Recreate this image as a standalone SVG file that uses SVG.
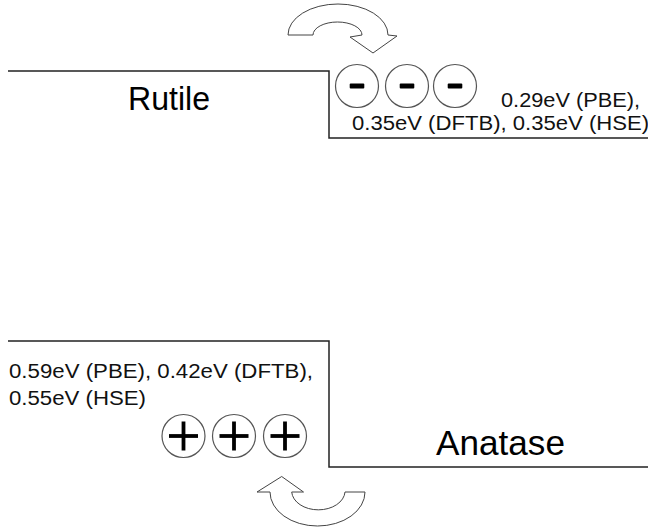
<svg xmlns="http://www.w3.org/2000/svg" width="648" height="529" viewBox="0 0 648 529">
  <style>
    .level { fill: none; stroke: #222; stroke-width: 1.5; }
    .arrow { fill: #fff; stroke: #444; stroke-width: 1; stroke-linejoin: miter; }
    .charge { fill: #fff; stroke: #555; stroke-width: 1.2; }
    .sign { fill: #000; }
    .big { font-family: "Liberation Sans", Arial, sans-serif; font-size: 32.5px; fill: #000; }
    .small { font-family: "Liberation Sans", Arial, sans-serif; font-size: 20.5px; fill: #111; }
  </style>
  <defs>
    <g id="minus">
      <circle class="charge" cx="0" cy="0" r="21.5"/>
      <rect class="sign" x="-7.3" y="-2.6" width="14.6" height="5.2" rx="1"/>
    </g>
    <g id="plus">
      <circle class="charge" cx="0" cy="0" r="21.5"/>
      <rect class="sign" x="-14.5" y="-1.9" width="29" height="3.8"/>
      <rect class="sign" x="-1.9" y="-14.5" width="3.8" height="29"/>
    </g>
  </defs>

  <g id="rutile">
    <path class="level" d="M8,71 H329 V138 H648"/>
    <text class="big" x="128" y="110" textLength="82" lengthAdjust="spacingAndGlyphs">Rutile</text>
  </g>

  <g id="electrons">
    <use href="#minus" x="357" y="86"/>
    <use href="#minus" x="407" y="86"/>
    <use href="#minus" x="455" y="86"/>
  </g>

  <g id="rutile-offset-label">
    <text class="small" x="501" y="107" textLength="139" lengthAdjust="spacingAndGlyphs">0.29eV (PBE),</text>
    <text class="small" x="352" y="129.5" textLength="297" lengthAdjust="spacingAndGlyphs">0.35eV (DFTB), 0.35eV (HSE)</text>
  </g>

  <g id="anatase">
    <path class="level" d="M8,341 H329 V467 H648"/>
    <text class="big" x="436" y="455" style="font-size:35px" textLength="129" lengthAdjust="spacingAndGlyphs">Anatase</text>
  </g>

  <g id="anatase-offset-label">
    <text class="small" x="9" y="378" textLength="304" lengthAdjust="spacingAndGlyphs">0.59eV (PBE), 0.42eV (DFTB),</text>
    <text class="small" x="9" y="405" textLength="137" lengthAdjust="spacingAndGlyphs">0.55eV (HSE)</text>
  </g>

  <g id="holes">
    <use href="#plus" x="183.5" y="436"/>
    <use href="#plus" x="234" y="436"/>
    <use href="#plus" x="285" y="436"/>
  </g>

  <g id="arrows">
    <path id="electron-transfer" class="arrow" d="M288,35 A50,31 0 0 1 388,35 L397,36 L373,53 L350,37 L362,35 A24.5,13 0 0 0 313,35 Z"/>
    <path id="hole-transfer" class="arrow" d="M281.7,476.5 L303.5,492 L291.7,492 A26.7,19 0 0 0 345,492 L365,492 A47.5,34 0 0 1 270,492 L257,492 Z"/>
  </g>
</svg>
